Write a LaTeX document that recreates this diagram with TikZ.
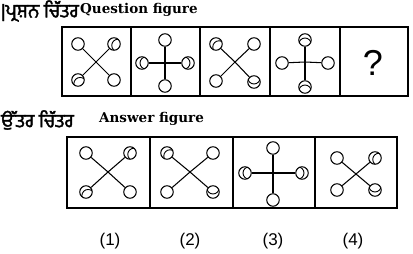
\documentclass[tikz,border=0pt]{standalone}
\usepackage{fontspec}
\setmainfont{Liberation Sans}
\newfontfamily\gurfont[Script=Gurmukhi,FakeBold=2]{Hind Jalandhar}
\newfontfamily\headfont{DejaVu Serif}
\begin{document}
\begin{tikzpicture}[x=1pt,y=-1pt,
  frame/.style={draw=black,line width=1.3pt},
  ring/.style={circle,draw=black,line width=1.05pt,minimum size=12.5pt,inner sep=0pt,fill=white},
  dring/.style={ring,path picture={\draw[line width=0.9pt] ([shift={(#1:4.2pt)}]path picture bounding box.center) circle (6.2pt);}},
  spoke/.style={line width=1.05pt},
  head/.style={anchor=west,inner sep=0pt,font=\headfont\bfseries\fontsize{13.5}{15}\selectfont},
  ghead/.style={anchor=west,inner sep=0pt,font=\gurfont\fontsize{19}{21}\selectfont},
  num/.style={font=\fontsize{17}{19}\selectfont,inner sep=0pt}]
\useasboundingbox (0,0) rectangle (413,254);
% headers
\node[ghead] (gq) at (1,11) {|ਪ੍ਰਸ਼ਨ ਚਿੱਤਰ};
\node[head] (hq) at (80,10) {Question figure};
\node[ghead] (ga) at (1,120) {ਉੱਤਰ ਚਿੱਤਰ};
\node[head] (ha) at (99,119) {Answer figure};
% question boxes
\draw[frame] (62,27) rectangle (408,96);
\foreach \xx in {131,200,270,340} \draw[frame] (\xx,27) -- (\xx,96);
% answer boxes
\draw[frame] (67,137) rectangle (397,208);
\foreach \xx in {150,233,315} \draw[frame] (\xx,137) -- (\xx,208);
% Q1
\coordinate (q1) at (96,62);
\node[ring] (q1a) at (78,44) {};
\node[dring=-20] (q1b) at (114,44) {};
\node[dring=-60] (q1c) at (78,80) {};
\node[ring] (q1d) at (114,80) {};
\foreach \n in {a,b,c,d} \draw[spoke] (q1) -- (q1\n);
% Q2
\coordinate (q2) at (165,63);
\node[ring] (q2a) at (165,40) {};
\node[dring=0] (q2b) at (142,63) {};
\node[dring=180] (q2c) at (188,63) {};
\node[ring] (q2d) at (165,86) {};
\foreach \n in {a,b,c,d} \draw[spoke] (q2) -- (q2\n);
% Q3
\coordinate (q3) at (235,62);
\node[dring=-45] (q3a) at (216,44) {};
\node[ring] (q3b) at (254,44) {};
\node[ring] (q3c) at (216,81) {};
\node[dring=90] (q3d) at (254,82) {};
\foreach \n in {a,b,c,d} \draw[spoke] (q3) -- (q3\n);
% Q4
\coordinate (q4) at (305,62);
\node[dring=-90] (q4a) at (305,40) {};
\node[ring] (q4b) at (282,63) {};
\node[ring] (q4c) at (328,63) {};
\node[dring=-90] (q4d) at (305,87) {};
\foreach \n in {a,b,c,d} \draw[spoke] (q4) -- (q4\n);
% Q5
\node[font=\fontsize{36}{38}\selectfont,inner sep=0pt] (q5) at (373,63) {?};
% A1
\coordinate (a1) at (108,172);
\node[ring] (a1a) at (86,153) {};
\node[dring=-20] (a1b) at (130,153) {};
\node[dring=-60] (a1c) at (86,192) {};
\node[ring] (a1d) at (130,192) {};
\foreach \n in {a,b,c,d} \draw[spoke] (a1) -- (a1\n);
% A2
\coordinate (a2) at (190,172);
\node[dring=-45] (a2a) at (167,153) {};
\node[ring] (a2b) at (213,153) {};
\node[ring] (a2c) at (167,192) {};
\node[dring=90] (a2d) at (213,192) {};
\foreach \n in {a,b,c,d} \draw[spoke] (a2) -- (a2\n);
% A3
\coordinate (a3) at (273,173);
\node[ring] (a3a) at (273,148) {};
\node[dring=0] (a3b) at (245,173) {};
\node[dring=180] (a3c) at (302,173) {};
\node[ring] (a3d) at (273,200) {};
\foreach \n in {a,b,c,d} \draw[spoke] (a3) -- (a3\n);
% A4
\coordinate (a4) at (356,174);
\node[ring] (a4a) at (337,158) {};
\node[dring=-20] (a4b) at (375,158) {};
\node[ring] (a4c) at (337,190) {};
\node[dring=90] (a4d) at (375,190) {};
\foreach \n in {a,b,c,d} \draw[spoke] (a4) -- (a4\n);
% labels
\node[num] (l1) at (110,241) {(1)};
\node[num] (l2) at (190,241) {(2)};
\node[num] (l3) at (273,241) {(3)};
\node[num] (l4) at (353,241) {(4)};
\end{tikzpicture}
\end{document}
